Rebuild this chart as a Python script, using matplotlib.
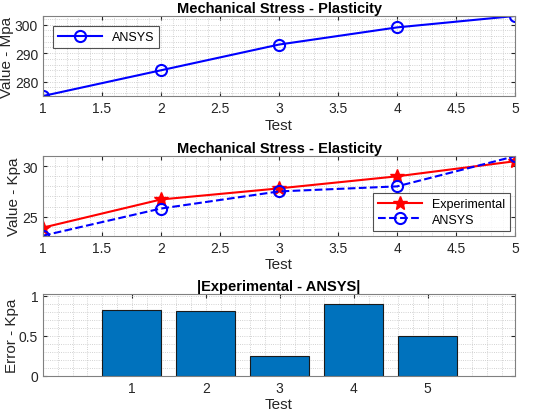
import numpy as np
import matplotlib.pyplot as plt
from matplotlib.ticker import AutoMinorLocator, MultipleLocator

plt.rcParams['font.family'] = ['Liberation Sans', 'DejaVu Sans']

tests = [1, 2, 3, 4, 5]
plasticity_ansys = [275, 284, 293, 299, 303]
elasticity_exp = [23.9, 26.7, 27.8, 29.0, 30.5]
elasticity_ansys = [23.1, 25.8, 27.5, 28.0, 31.0]
error_kpa = [0.82, 0.81, 0.25, 0.90, 0.49]
half_ticks = ['1', '1.5', '2', '2.5', '3', '3.5', '4', '4.5', '5']

blue = '#0000FF'
red = '#FF0000'
bar_color = '#0072BD'
axis_gray = '#262626'


def style_axes(ax, xminor, yminor):
    ax.xaxis.set_minor_locator(AutoMinorLocator(xminor))
    ax.yaxis.set_minor_locator(AutoMinorLocator(yminor))
    ax.grid(True, which='both', color='#c4c4c4', linestyle=':', linewidth=0.6)
    ax.set_axisbelow(True)
    ax.tick_params(which='both', direction='in', top=True, right=True,
                   labelsize=10, colors=axis_gray, length=3)
    ax.tick_params(which='minor', length=0)
    for sp in ax.spines.values():
        sp.set_color('#808080')
        sp.set_linewidth(0.8)


fig = plt.figure(figsize=(5.34, 4.14), dpi=100)

# top: plasticity
ax1 = fig.add_axes([0.0805, 0.7657, 0.884, 0.1933])
ax1.plot(tests, plasticity_ansys, '-o', color=blue, linewidth=1.5,
         markersize=8, markerfacecolor='none', markeredgewidth=1.5, label='ANSYS')
ax1.set_xlim(1, 5)
ax1.set_ylim(275, 303)
ax1.set_xticks(np.arange(1, 5.01, 0.5))
ax1.set_xticklabels(half_ticks)
ax1.set_yticks([280, 290, 300])
style_axes(ax1, 5, 5)
ax1.set_title('Mechanical Stress - Plasticity', fontsize=10.5, fontweight='bold', pad=3)
ax1.set_xlabel('Test', fontsize=11, color=axis_gray, labelpad=2)
ax1.set_ylabel('Value - Mpa', fontsize=11, color=axis_gray)
ax1.yaxis.set_label_coords(-0.061, 0.5)
leg1 = ax1.legend(loc='upper left', fontsize=9, fancybox=False, edgecolor='#262626',
                  handlelength=3.5, borderaxespad=0.8)
leg1.get_frame().set_linewidth(0.8)

# middle: elasticity
ax2 = fig.add_axes([0.0805, 0.4283, 0.884, 0.1932])
ax2.plot(tests, elasticity_exp, '-*', color=red, linewidth=1.5,
         markersize=10, label='Experimental')
ax2.plot(tests, elasticity_ansys, '--o', color=blue, linewidth=1.5,
         markersize=8, markerfacecolor='none', markeredgewidth=1.5, label='ANSYS')
ax2.set_xlim(1, 5)
ax2.set_ylim(23.1, 31.05)
ax2.set_xticks(np.arange(1, 5.01, 0.5))
ax2.set_xticklabels(half_ticks)
ax2.set_yticks([25, 30])
style_axes(ax2, 5, 5)
ax2.set_title('Mechanical Stress - Elasticity', fontsize=10.5, fontweight='bold', pad=3)
ax2.set_xlabel('Test', fontsize=11, color=axis_gray, labelpad=2)
ax2.set_ylabel('Value - Kpa', fontsize=11, color=axis_gray)
ax2.yaxis.set_label_coords(-0.047, 0.5)
leg2 = ax2.legend(loc='lower right', fontsize=9, fancybox=False, edgecolor='#262626',
                  handlelength=3.5, borderaxespad=0.4, labelspacing=0.3)
leg2.get_frame().set_linewidth(0.8)

# bottom: error bars
ax3 = fig.add_axes([0.0805, 0.0901, 0.884, 0.1973])
ax3.bar(tests, error_kpa, width=0.8, color=bar_color, edgecolor='#1a1a1a', linewidth=0.8)
ax3.set_xlim(-0.2, 6.18)
ax3.set_ylim(0, 1.02)
ax3.set_xticks(tests)
ax3.set_yticks([0, 0.5, 1])
ax3.set_yticklabels(['0', '0.5', '1'])
style_axes(ax3, 5, 5)
ax3.xaxis.set_minor_locator(MultipleLocator(0.2))
ax3.set_title('|Experimental - ANSYS|', fontsize=10.5, fontweight='bold', pad=3)
ax3.set_xlabel('Test', fontsize=11, color=axis_gray, labelpad=2)
ax3.set_ylabel('Error - Kpa', fontsize=11, color=axis_gray)
ax3.yaxis.set_label_coords(-0.051, 0.5)

fig.savefig('out.png', dpi=100)
plt.close()
